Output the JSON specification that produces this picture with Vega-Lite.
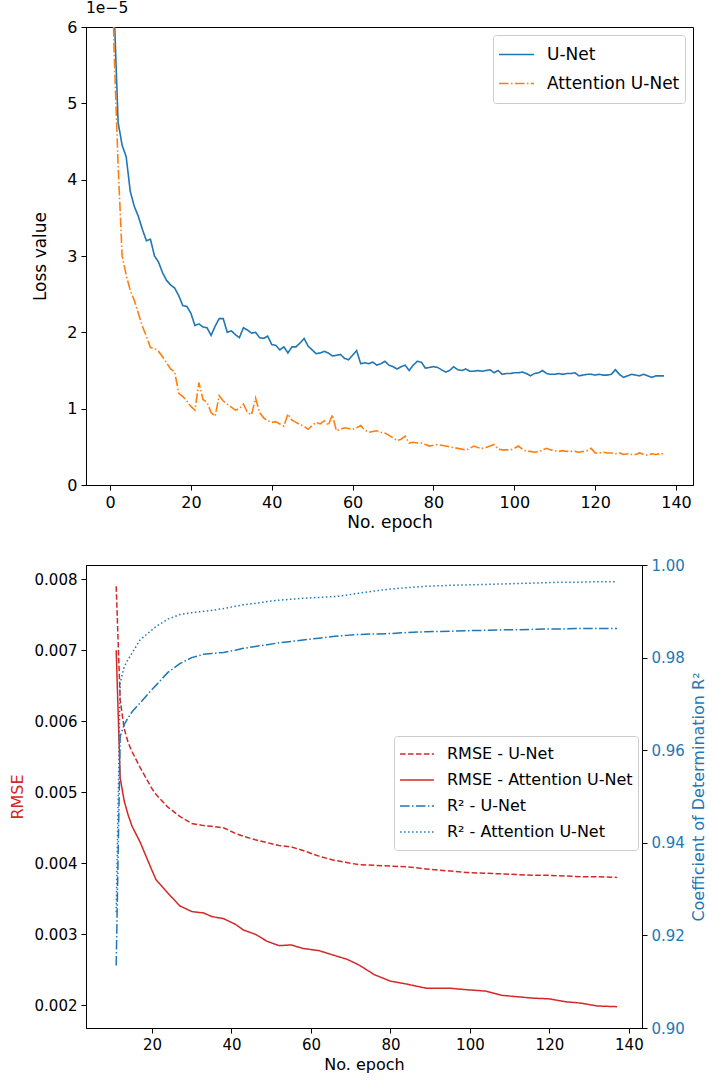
{
  "$schema": "https://vega.github.io/schema/vega-lite/v6.json",
  "padding": {"left": 8, "top": 0, "right": 5, "bottom": 5},
  "background": "white",
  "datasets": {
    "loss": [
      {"epoch":0,"U-Net":9.0e-5,"Attention U-Net":8.5e-5},
      {"epoch":1,"U-Net":6.25e-5,"Attention U-Net":5.7e-5},
      {"epoch":2,"U-Net":4.75e-5,"Attention U-Net":4.2e-5},
      {"epoch":3,"U-Net":4.45e-5,"Attention U-Net":3.0e-5},
      {"epoch":4,"U-Net":4.3e-5,"Attention U-Net":2.75e-5},
      {"epoch":5,"U-Net":3.85e-5,"Attention U-Net":2.55e-5},
      {"epoch":6,"U-Net":3.65e-5,"Attention U-Net":2.42e-5},
      {"epoch":7,"U-Net":3.52e-5,"Attention U-Net":2.25e-5},
      {"epoch":8,"U-Net":3.35e-5,"Attention U-Net":2.08e-5},
      {"epoch":9,"U-Net":3.2e-5,"Attention U-Net":1.95e-5},
      {"epoch":10,"U-Net":3.22e-5,"Attention U-Net":1.8e-5},
      {"epoch":11,"U-Net":3.0e-5,"Attention U-Net":1.79e-5},
      {"epoch":12,"U-Net":2.92e-5,"Attention U-Net":1.75e-5},
      {"epoch":13,"U-Net":2.78e-5,"Attention U-Net":1.68e-5},
      {"epoch":14,"U-Net":2.68e-5,"Attention U-Net":1.6e-5},
      {"epoch":15,"U-Net":2.62e-5,"Attention U-Net":1.52e-5},
      {"epoch":16,"U-Net":2.58e-5,"Attention U-Net":1.48e-5},
      {"epoch":17,"U-Net":2.48e-5,"Attention U-Net":1.2e-5},
      {"epoch":18,"U-Net":2.35e-5,"Attention U-Net":1.16e-5},
      {"epoch":19,"U-Net":2.34e-5,"Attention U-Net":1.1e-5},
      {"epoch":20,"U-Net":2.25e-5,"Attention U-Net":1.03e-5},
      {"epoch":21,"U-Net":2.09e-5,"Attention U-Net":0.98e-5},
      {"epoch":22,"U-Net":2.11e-5,"Attention U-Net":1.34e-5},
      {"epoch":23,"U-Net":2.07e-5,"Attention U-Net":1.12e-5},
      {"epoch":24,"U-Net":2.06e-5,"Attention U-Net":1.08e-5},
      {"epoch":25,"U-Net":1.96e-5,"Attention U-Net":0.95e-5},
      {"epoch":26,"U-Net":2.08e-5,"Attention U-Net":0.9e-5},
      {"epoch":27,"U-Net":2.18e-5,"Attention U-Net":1.17e-5},
      {"epoch":28,"U-Net":2.18e-5,"Attention U-Net":1.1e-5},
      {"epoch":29,"U-Net":2.0e-5,"Attention U-Net":1.06e-5},
      {"epoch":30,"U-Net":2.02e-5,"Attention U-Net":1.02e-5},
      {"epoch":31,"U-Net":1.97e-5,"Attention U-Net":0.98e-5},
      {"epoch":32,"U-Net":1.93e-5,"Attention U-Net":1.0e-5},
      {"epoch":33,"U-Net":2.06e-5,"Attention U-Net":1.06e-5},
      {"epoch":34,"U-Net":2.03e-5,"Attention U-Net":0.95e-5},
      {"epoch":35,"U-Net":1.99e-5,"Attention U-Net":0.92e-5},
      {"epoch":36,"U-Net":2.0e-5,"Attention U-Net":1.14e-5},
      {"epoch":37,"U-Net":1.93e-5,"Attention U-Net":0.95e-5},
      {"epoch":38,"U-Net":1.92e-5,"Attention U-Net":0.88e-5},
      {"epoch":39,"U-Net":1.95e-5,"Attention U-Net":0.84e-5},
      {"epoch":40,"U-Net":1.84e-5,"Attention U-Net":0.82e-5},
      {"epoch":41,"U-Net":1.83e-5,"Attention U-Net":0.83e-5},
      {"epoch":42,"U-Net":1.77e-5,"Attention U-Net":0.8e-5},
      {"epoch":43,"U-Net":1.81e-5,"Attention U-Net":0.77e-5},
      {"epoch":44,"U-Net":1.73e-5,"Attention U-Net":0.93e-5},
      {"epoch":45,"U-Net":1.81e-5,"Attention U-Net":0.85e-5},
      {"epoch":46,"U-Net":1.81e-5,"Attention U-Net":0.82e-5},
      {"epoch":47,"U-Net":1.86e-5,"Attention U-Net":0.79e-5},
      {"epoch":48,"U-Net":1.92e-5,"Attention U-Net":0.77e-5},
      {"epoch":49,"U-Net":1.82e-5,"Attention U-Net":0.73e-5},
      {"epoch":50,"U-Net":1.77e-5,"Attention U-Net":0.78e-5},
      {"epoch":51,"U-Net":1.72e-5,"Attention U-Net":0.82e-5},
      {"epoch":52,"U-Net":1.73e-5,"Attention U-Net":0.8e-5},
      {"epoch":53,"U-Net":1.75e-5,"Attention U-Net":0.84e-5},
      {"epoch":54,"U-Net":1.73e-5,"Attention U-Net":0.78e-5},
      {"epoch":55,"U-Net":1.69e-5,"Attention U-Net":0.92e-5},
      {"epoch":56,"U-Net":1.7e-5,"Attention U-Net":0.71e-5},
      {"epoch":57,"U-Net":1.71e-5,"Attention U-Net":0.73e-5},
      {"epoch":58,"U-Net":1.66e-5,"Attention U-Net":0.75e-5},
      {"epoch":59,"U-Net":1.64e-5,"Attention U-Net":0.74e-5},
      {"epoch":60,"U-Net":1.7e-5,"Attention U-Net":0.73e-5},
      {"epoch":61,"U-Net":1.76e-5,"Attention U-Net":0.75e-5},
      {"epoch":62,"U-Net":1.59e-5,"Attention U-Net":0.78e-5},
      {"epoch":63,"U-Net":1.6e-5,"Attention U-Net":0.72e-5},
      {"epoch":64,"U-Net":1.59e-5,"Attention U-Net":0.69e-5},
      {"epoch":65,"U-Net":1.61e-5,"Attention U-Net":0.7e-5},
      {"epoch":66,"U-Net":1.57e-5,"Attention U-Net":0.71e-5},
      {"epoch":67,"U-Net":1.59e-5,"Attention U-Net":0.69e-5},
      {"epoch":68,"U-Net":1.62e-5,"Attention U-Net":0.68e-5},
      {"epoch":69,"U-Net":1.57e-5,"Attention U-Net":0.65e-5},
      {"epoch":70,"U-Net":1.55e-5,"Attention U-Net":0.62e-5},
      {"epoch":71,"U-Net":1.52e-5,"Attention U-Net":0.58e-5},
      {"epoch":72,"U-Net":1.55e-5,"Attention U-Net":0.6e-5},
      {"epoch":73,"U-Net":1.57e-5,"Attention U-Net":0.64e-5},
      {"epoch":74,"U-Net":1.5e-5,"Attention U-Net":0.55e-5},
      {"epoch":75,"U-Net":1.57e-5,"Attention U-Net":0.56e-5},
      {"epoch":76,"U-Net":1.62e-5,"Attention U-Net":0.55e-5},
      {"epoch":77,"U-Net":1.61e-5,"Attention U-Net":0.55e-5},
      {"epoch":78,"U-Net":1.53e-5,"Attention U-Net":0.53e-5},
      {"epoch":79,"U-Net":1.54e-5,"Attention U-Net":0.51e-5},
      {"epoch":80,"U-Net":1.55e-5,"Attention U-Net":0.52e-5},
      {"epoch":81,"U-Net":1.54e-5,"Attention U-Net":0.53e-5},
      {"epoch":82,"U-Net":1.51e-5,"Attention U-Net":0.52e-5},
      {"epoch":83,"U-Net":1.48e-5,"Attention U-Net":0.51e-5},
      {"epoch":84,"U-Net":1.5e-5,"Attention U-Net":0.5e-5},
      {"epoch":85,"U-Net":1.55e-5,"Attention U-Net":0.49e-5},
      {"epoch":86,"U-Net":1.51e-5,"Attention U-Net":0.48e-5},
      {"epoch":87,"U-Net":1.5e-5,"Attention U-Net":0.47e-5},
      {"epoch":88,"U-Net":1.52e-5,"Attention U-Net":0.46e-5},
      {"epoch":89,"U-Net":1.49e-5,"Attention U-Net":0.48e-5},
      {"epoch":90,"U-Net":1.49e-5,"Attention U-Net":0.51e-5},
      {"epoch":91,"U-Net":1.5e-5,"Attention U-Net":0.49e-5},
      {"epoch":92,"U-Net":1.49e-5,"Attention U-Net":0.48e-5},
      {"epoch":93,"U-Net":1.5e-5,"Attention U-Net":0.49e-5},
      {"epoch":94,"U-Net":1.51e-5,"Attention U-Net":0.51e-5},
      {"epoch":95,"U-Net":1.47e-5,"Attention U-Net":0.53e-5},
      {"epoch":96,"U-Net":1.5e-5,"Attention U-Net":0.47e-5},
      {"epoch":97,"U-Net":1.45e-5,"Attention U-Net":0.46e-5},
      {"epoch":98,"U-Net":1.46e-5,"Attention U-Net":0.46e-5},
      {"epoch":99,"U-Net":1.46e-5,"Attention U-Net":0.46e-5},
      {"epoch":100,"U-Net":1.47e-5,"Attention U-Net":0.48e-5},
      {"epoch":101,"U-Net":1.47e-5,"Attention U-Net":0.51e-5},
      {"epoch":102,"U-Net":1.48e-5,"Attention U-Net":0.47e-5},
      {"epoch":103,"U-Net":1.46e-5,"Attention U-Net":0.44e-5},
      {"epoch":104,"U-Net":1.43e-5,"Attention U-Net":0.44e-5},
      {"epoch":105,"U-Net":1.46e-5,"Attention U-Net":0.43e-5},
      {"epoch":106,"U-Net":1.47e-5,"Attention U-Net":0.44e-5},
      {"epoch":107,"U-Net":1.5e-5,"Attention U-Net":0.46e-5},
      {"epoch":108,"U-Net":1.46e-5,"Attention U-Net":0.48e-5},
      {"epoch":109,"U-Net":1.45e-5,"Attention U-Net":0.46e-5},
      {"epoch":110,"U-Net":1.45e-5,"Attention U-Net":0.45e-5},
      {"epoch":111,"U-Net":1.46e-5,"Attention U-Net":0.44e-5},
      {"epoch":112,"U-Net":1.45e-5,"Attention U-Net":0.45e-5},
      {"epoch":113,"U-Net":1.46e-5,"Attention U-Net":0.44e-5},
      {"epoch":114,"U-Net":1.46e-5,"Attention U-Net":0.44e-5},
      {"epoch":115,"U-Net":1.47e-5,"Attention U-Net":0.44e-5},
      {"epoch":116,"U-Net":1.43e-5,"Attention U-Net":0.43e-5},
      {"epoch":117,"U-Net":1.44e-5,"Attention U-Net":0.44e-5},
      {"epoch":118,"U-Net":1.45e-5,"Attention U-Net":0.45e-5},
      {"epoch":119,"U-Net":1.45e-5,"Attention U-Net":0.48e-5},
      {"epoch":120,"U-Net":1.44e-5,"Attention U-Net":0.42e-5},
      {"epoch":121,"U-Net":1.45e-5,"Attention U-Net":0.42e-5},
      {"epoch":122,"U-Net":1.44e-5,"Attention U-Net":0.43e-5},
      {"epoch":123,"U-Net":1.44e-5,"Attention U-Net":0.42e-5},
      {"epoch":124,"U-Net":1.45e-5,"Attention U-Net":0.42e-5},
      {"epoch":125,"U-Net":1.51e-5,"Attention U-Net":0.41e-5},
      {"epoch":126,"U-Net":1.45e-5,"Attention U-Net":0.42e-5},
      {"epoch":127,"U-Net":1.41e-5,"Attention U-Net":0.4e-5},
      {"epoch":128,"U-Net":1.43e-5,"Attention U-Net":0.41e-5},
      {"epoch":129,"U-Net":1.45e-5,"Attention U-Net":0.4e-5},
      {"epoch":130,"U-Net":1.44e-5,"Attention U-Net":0.4e-5},
      {"epoch":131,"U-Net":1.43e-5,"Attention U-Net":0.42e-5},
      {"epoch":132,"U-Net":1.45e-5,"Attention U-Net":0.4e-5},
      {"epoch":133,"U-Net":1.43e-5,"Attention U-Net":0.39e-5},
      {"epoch":134,"U-Net":1.41e-5,"Attention U-Net":0.41e-5},
      {"epoch":135,"U-Net":1.43e-5,"Attention U-Net":0.4e-5},
      {"epoch":136,"U-Net":1.43e-5,"Attention U-Net":0.41e-5},
      {"epoch":137,"U-Net":1.43e-5,"Attention U-Net":0.41e-5}
    ],
    "metrics": [
      {"epoch":11,"RMSE - U-Net":0.0079,"RMSE - Attention U-Net":0.0070,"R² - U-Net":0.9135,"R² - Attention U-Net":0.925},
      {"epoch":12,"RMSE - U-Net":0.0063,"RMSE - Attention U-Net":0.0052,"R² - U-Net":0.963,"R² - Attention U-Net":0.9745},
      {"epoch":13,"RMSE - U-Net":0.0059,"RMSE - Attention U-Net":0.00488,"R² - U-Net":0.9655,"R² - Attention U-Net":0.978},
      {"epoch":14,"RMSE - U-Net":0.0057,"RMSE - Attention U-Net":0.00468,"R² - U-Net":0.967,"R² - Attention U-Net":0.9796},
      {"epoch":15,"RMSE - U-Net":0.00557,"RMSE - Attention U-Net":0.00452,"R² - U-Net":0.9683,"R² - Attention U-Net":0.981},
      {"epoch":17,"RMSE - U-Net":0.00535,"RMSE - Attention U-Net":0.0043,"R² - U-Net":0.9702,"R² - Attention U-Net":0.9838},
      {"epoch":20,"RMSE - U-Net":0.00505,"RMSE - Attention U-Net":0.0039,"R² - U-Net":0.9731,"R² - Attention U-Net":0.986},
      {"epoch":21,"RMSE - U-Net":0.00497,"RMSE - Attention U-Net":0.00377,"R² - U-Net":0.974,"R² - Attention U-Net":0.9867},
      {"epoch":24,"RMSE - U-Net":0.00479,"RMSE - Attention U-Net":0.00358,"R² - U-Net":0.9768,"R² - Attention U-Net":0.9883},
      {"epoch":27,"RMSE - U-Net":0.00466,"RMSE - Attention U-Net":0.0034,"R² - U-Net":0.9787,"R² - Attention U-Net":0.9893},
      {"epoch":30,"RMSE - U-Net":0.00456,"RMSE - Attention U-Net":0.00332,"R² - U-Net":0.98,"R² - Attention U-Net":0.9897},
      {"epoch":33,"RMSE - U-Net":0.00453,"RMSE - Attention U-Net":0.0033,"R² - U-Net":0.9807,"R² - Attention U-Net":0.99},
      {"epoch":35,"RMSE - U-Net":0.00452,"RMSE - Attention U-Net":0.00325,"R² - U-Net":0.9809,"R² - Attention U-Net":0.9902},
      {"epoch":38,"RMSE - U-Net":0.0045,"RMSE - Attention U-Net":0.00322,"R² - U-Net":0.9811,"R² - Attention U-Net":0.9906},
      {"epoch":41,"RMSE - U-Net":0.00442,"RMSE - Attention U-Net":0.00314,"R² - U-Net":0.9816,"R² - Attention U-Net":0.9911},
      {"epoch":43,"RMSE - U-Net":0.00438,"RMSE - Attention U-Net":0.00306,"R² - U-Net":0.982,"R² - Attention U-Net":0.9914},
      {"epoch":46,"RMSE - U-Net":0.00433,"RMSE - Attention U-Net":0.003,"R² - U-Net":0.9824,"R² - Attention U-Net":0.9917},
      {"epoch":49,"RMSE - U-Net":0.00429,"RMSE - Attention U-Net":0.0029,"R² - U-Net":0.9828,"R² - Attention U-Net":0.9921},
      {"epoch":52,"RMSE - U-Net":0.00425,"RMSE - Attention U-Net":0.00284,"R² - U-Net":0.9832,"R² - Attention U-Net":0.9924},
      {"epoch":55,"RMSE - U-Net":0.00423,"RMSE - Attention U-Net":0.00285,"R² - U-Net":0.9835,"R² - Attention U-Net":0.9926},
      {"epoch":58,"RMSE - U-Net":0.00418,"RMSE - Attention U-Net":0.0028,"R² - U-Net":0.9838,"R² - Attention U-Net":0.9928},
      {"epoch":62,"RMSE - U-Net":0.0041,"RMSE - Attention U-Net":0.00277,"R² - U-Net":0.9842,"R² - Attention U-Net":0.993},
      {"epoch":66,"RMSE - U-Net":0.00404,"RMSE - Attention U-Net":0.0027,"R² - U-Net":0.9846,"R² - Attention U-Net":0.9932},
      {"epoch":69,"RMSE - U-Net":0.00401,"RMSE - Attention U-Net":0.00265,"R² - U-Net":0.9848,"R² - Attention U-Net":0.9935},
      {"epoch":72,"RMSE - U-Net":0.00398,"RMSE - Attention U-Net":0.00257,"R² - U-Net":0.985,"R² - Attention U-Net":0.9939},
      {"epoch":76,"RMSE - U-Net":0.00397,"RMSE - Attention U-Net":0.00243,"R² - U-Net":0.9851,"R² - Attention U-Net":0.9944},
      {"epoch":80,"RMSE - U-Net":0.00396,"RMSE - Attention U-Net":0.00234,"R² - U-Net":0.9852,"R² - Attention U-Net":0.9948},
      {"epoch":84,"RMSE - U-Net":0.00395,"RMSE - Attention U-Net":0.0023,"R² - U-Net":0.9854,"R² - Attention U-Net":0.9951},
      {"epoch":89,"RMSE - U-Net":0.00392,"RMSE - Attention U-Net":0.00224,"R² - U-Net":0.9856,"R² - Attention U-Net":0.9954},
      {"epoch":95,"RMSE - U-Net":0.00389,"RMSE - Attention U-Net":0.00224,"R² - U-Net":0.9857,"R² - Attention U-Net":0.9956},
      {"epoch":99,"RMSE - U-Net":0.00387,"RMSE - Attention U-Net":0.00222,"R² - U-Net":0.9858,"R² - Attention U-Net":0.9957},
      {"epoch":104,"RMSE - U-Net":0.00386,"RMSE - Attention U-Net":0.0022,"R² - U-Net":0.9859,"R² - Attention U-Net":0.9958},
      {"epoch":108,"RMSE - U-Net":0.00385,"RMSE - Attention U-Net":0.00214,"R² - U-Net":0.986,"R² - Attention U-Net":0.9959},
      {"epoch":112,"RMSE - U-Net":0.00384,"RMSE - Attention U-Net":0.00212,"R² - U-Net":0.986,"R² - Attention U-Net":0.996},
      {"epoch":116,"RMSE - U-Net":0.00383,"RMSE - Attention U-Net":0.0021,"R² - U-Net":0.9861,"R² - Attention U-Net":0.9961},
      {"epoch":120,"RMSE - U-Net":0.00383,"RMSE - Attention U-Net":0.00209,"R² - U-Net":0.9862,"R² - Attention U-Net":0.9962},
      {"epoch":124,"RMSE - U-Net":0.00382,"RMSE - Attention U-Net":0.00205,"R² - U-Net":0.9862,"R² - Attention U-Net":0.9963},
      {"epoch":128,"RMSE - U-Net":0.00381,"RMSE - Attention U-Net":0.00203,"R² - U-Net":0.9863,"R² - Attention U-Net":0.9963},
      {"epoch":132,"RMSE - U-Net":0.00381,"RMSE - Attention U-Net":0.00199,"R² - U-Net":0.9863,"R² - Attention U-Net":0.9964},
      {"epoch":137,"RMSE - U-Net":0.0038,"RMSE - Attention U-Net":0.00198,"R² - U-Net":0.9863,"R² - Attention U-Net":0.9964}
    ]
  },
  "vconcat": [
    {
      "width": 607,
      "height": 458,
      "title": {"text": "1e−5", "anchor": "start", "frame": "group", "fontSize": 15.5, "fontWeight": "normal", "font": "DejaVu Sans", "color": "black", "offset": 3},
      "data": {"name": "loss"},
      "transform": [{"fold": ["U-Net", "Attention U-Net"], "as": ["model", "loss"]}],
      "mark": {"type": "line", "strokeWidth": 1.6, "clip": true},
      "encoding": {
        "x": {"field": "epoch", "type": "quantitative", "scale": {"domain": [-5.94, 144.2], "nice": false, "zero": false},
              "axis": {"values": [0, 20, 40, 60, 80, 100, 120, 140], "title": "No. epoch", "labelFontSize": 16, "titleFontSize": 17}},
        "y": {"field": "loss", "type": "quantitative", "scale": {"domain": [0, 6e-5], "nice": false},
              "axis": {"values": [0, 1e-5, 2e-5, 3e-5, 4e-5, 5e-5, 6e-5], "labelExpr": "format(round(datum.value*1e5), 'd')", "title": "Loss value", "titlePadding": 17, "labelFontSize": 16, "titleFontSize": 17}},
        "color": {"field": "model", "type": "nominal", "sort": null,
                  "scale": {"domain": ["U-Net", "Attention U-Net"], "range": ["#1f77b4", "#ff7f0e"]},
                  "legend": {"orient": "top-right", "offset": 8, "title": null, "clipHeight": 29, "padding": 5, "labelFontSize": 17, "symbolSize": 1225}},
        "strokeDash": {"field": "model", "type": "nominal", "sort": null,
                  "scale": {"domain": ["U-Net", "Attention U-Net"], "range": [[1, 0], [9.6, 2.4, 1.5, 2.4]]},
                  "legend": {"orient": "top-right", "offset": 8, "title": null, "clipHeight": 29, "padding": 5, "labelFontSize": 17, "symbolSize": 1225}}
      }
    },
    {
      "width": 556,
      "height": 463,
      "data": {"name": "metrics"},
      "layer": [
        {
          "transform": [{"fold": ["RMSE - U-Net", "RMSE - Attention U-Net"], "as": ["series", "value"]}],
          "mark": {"type": "line", "strokeWidth": 1.5},
          "encoding": {
            "x": {"field": "epoch", "type": "quantitative", "scale": {"domain": [3.4, 143.3], "nice": false, "zero": false},
                  "axis": {"values": [20, 40, 60, 80, 100, 120, 140], "title": "No. epoch"}},
            "y": {"field": "value", "type": "quantitative", "scale": {"domain": [0.00168, 0.0082], "nice": false, "zero": false},
                  "axis": {"values": [0.002, 0.003, 0.004, 0.005, 0.006, 0.007, 0.008], "format": ".3f", "title": "RMSE", "titleColor": "#d62728", "titlePadding": 9}},
            "color": {"field": "series", "type": "nominal", "sort": null,
                      "scale": {"domain": ["RMSE - U-Net", "RMSE - Attention U-Net", "R² - U-Net", "R² - Attention U-Net"], "range": ["#d62728", "#d62728", "#1f77b4", "#1f77b4"]},
                      "legend": {"orient": "none", "legendX": 308, "legendY": 171, "title": null, "clipHeight": 26, "padding": 5}},
            "strokeDash": {"field": "series", "type": "nominal", "sort": null,
                      "scale": {"domain": ["RMSE - U-Net", "RMSE - Attention U-Net", "R² - U-Net", "R² - Attention U-Net"], "range": [[5.55, 2.4], [1, 0], [9.6, 2.4, 1.5, 2.4], [1.5, 2.5]]},
                      "legend": {"orient": "none", "legendX": 308, "legendY": 171, "title": null, "clipHeight": 26, "padding": 5}}
          }
        },
        {
          "transform": [{"fold": ["R² - U-Net", "R² - Attention U-Net"], "as": ["series", "value"]}],
          "mark": {"type": "line", "strokeWidth": 1.5},
          "encoding": {
            "x": {"field": "epoch", "type": "quantitative"},
            "y": {"field": "value", "type": "quantitative", "scale": {"domain": [0.9, 1.0], "nice": false, "zero": false},
                  "axis": {"orient": "right", "values": [0.9, 0.92, 0.94, 0.96, 0.98, 1.0], "format": ".2f", "title": "Coefficient of Determination R²",
                           "labelColor": "#1f77b4", "titleColor": "#1f77b4", "titleAngle": 270, "titleBaseline": "top", "titlePadding": 6}},
            "color": {"field": "series", "type": "nominal", "sort": null},
            "strokeDash": {"field": "series", "type": "nominal", "sort": null}
          }
        }
      ],
      "resolve": {"scale": {"y": "independent"}}
    }
  ],
  "resolve": {"scale": {"color": "independent", "strokeDash": "independent"}},
  "spacing": 80,
  "bounds": "flush",
  "config": {
    "font": "DejaVu Sans",
    "view": {"stroke": "black", "strokeWidth": 1},
    "axis": {"grid": false, "domainColor": "black", "domainWidth": 1, "tickColor": "black", "tickSize": 5, "tickWidth": 1,
             "labelFontSize": 15, "labelColor": "black", "labelFont": "DejaVu Sans", "labelPadding": 4,
             "titleFont": "DejaVu Sans", "titleFontSize": 16, "titleFontWeight": "normal", "titleColor": "black"},
    "legend": {"symbolType": "stroke", "symbolSize": 1150, "symbolStrokeWidth": 1.5, "labelFontSize": 16, "labelFont": "DejaVu Sans",
               "labelColor": "black", "strokeColor": "#cccccc", "fillColor": "rgba(255,255,255,0.85)", "cornerRadius": 3,
               "labelOffset": 12, "rowPadding": 0, "labelLimit": 300}
  }
}
